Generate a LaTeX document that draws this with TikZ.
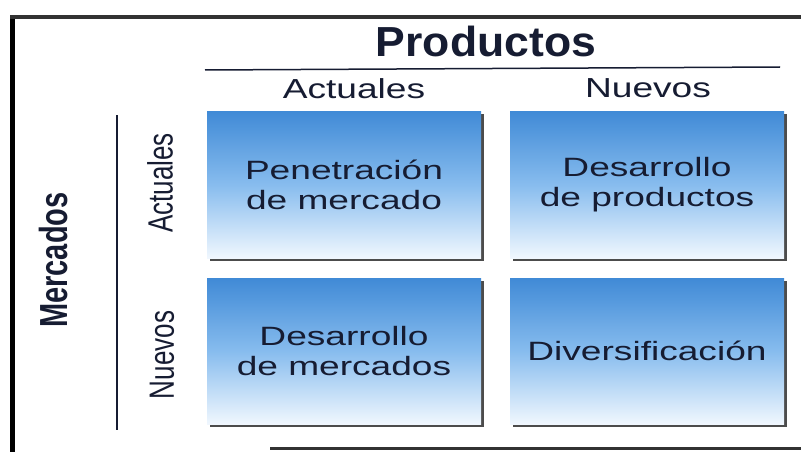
\documentclass[tikz,border=0pt]{standalone}
\usepackage{fontspec}
\setmainfont[FakeStretch=1.35]{Liberation Sans}
\newfontfamily\boxfont[FakeStretch=1.4]{Liberation Sans}
\newfontfamily\titlefont[FakeStretch=1.06]{Liberation Sans}
\newfontfamily\plainfont{Liberation Sans}
\usetikzlibrary{shadows}
\definecolor{ink}{RGB}{22,28,50}
\definecolor{btop}{RGB}{64,138,214}
\definecolor{bmid}{RGB}{135,188,238}
\definecolor{bbot}{RGB}{240,247,254}
\definecolor{framec}{RGB}{50,50,50}
\begin{document}
\begin{tikzpicture}[x=1pt,y=-1pt,
  cell/.style={minimum width=274pt, minimum height=147pt, inner sep=0pt,
    top color=btop, bottom color=bbot, middle color=bmid,
    drop shadow={shadow xshift=3pt, shadow yshift=-3pt, fill=black!70, opacity=1},
    align=center, text=ink, font=\boxfont\fontsize{26.5}{30}\selectfont},
  head/.style={text=ink, anchor=base, inner sep=0pt, font=\fontsize{27.5}{30}\selectfont},
  side/.style={text=ink, rotate=90, inner sep=0pt, font=\plainfont\fontsize{26}{30}\selectfont},
  rule/.style={line width=1.5pt, draw=ink}]
\useasboundingbox (0,0) rectangle (801,452);
\fill[white] (0,0) rectangle (801,452);
% frame
\draw[line width=5pt, draw=black] (12,452) -- (12,17);
\draw[line width=4pt, draw=framec] (10,17) -- (801,17);
\draw[line width=3pt, draw=framec] (270,448) -- (801,448);
% titles
\node[text=ink, anchor=base, inner sep=0pt, font=\titlefont\bfseries\fontsize{42}{46}\selectfont] (prod) at (486,57) {Productos};
\coordinate (pl) at (205,70);
\coordinate (pr) at (780,67);
\draw[rule] (pl) -- (pr);
\node[head] (hact) at (354,99) {Actuales};
\node[head] (hnue) at (648,97) {Nuevos};
\node[text=ink, rotate=90, inner sep=0pt, font=\plainfont\bfseries\fontsize{29}{32}\selectfont] (merc) at (54,260) {\scalebox{1}[1.35]{Mercados}};
\coordinate (vt) at (117,115);
\coordinate (vb) at (117,430);
\draw[rule] (vt) -- (vb);
\node[side] (sact) at (160,183) {\scalebox{1}[1.35]{Actuales}};
\node[side] (snue) at (162,355) {\scalebox{1}[1.35]{Nuevos}};
% cells
\node[cell] (c11) at (344,184.5) {Penetración\\de mercado};
\node[cell] (c12) at (647,184.5) {Desarrollo\\de productos};
\node[cell, minimum height=146pt] (c21) at (344,351) {Desarrollo\\de mercados};
\node[cell, minimum height=146pt] (c22) at (647,351) {Diversificación};
\end{tikzpicture}
\end{document}
